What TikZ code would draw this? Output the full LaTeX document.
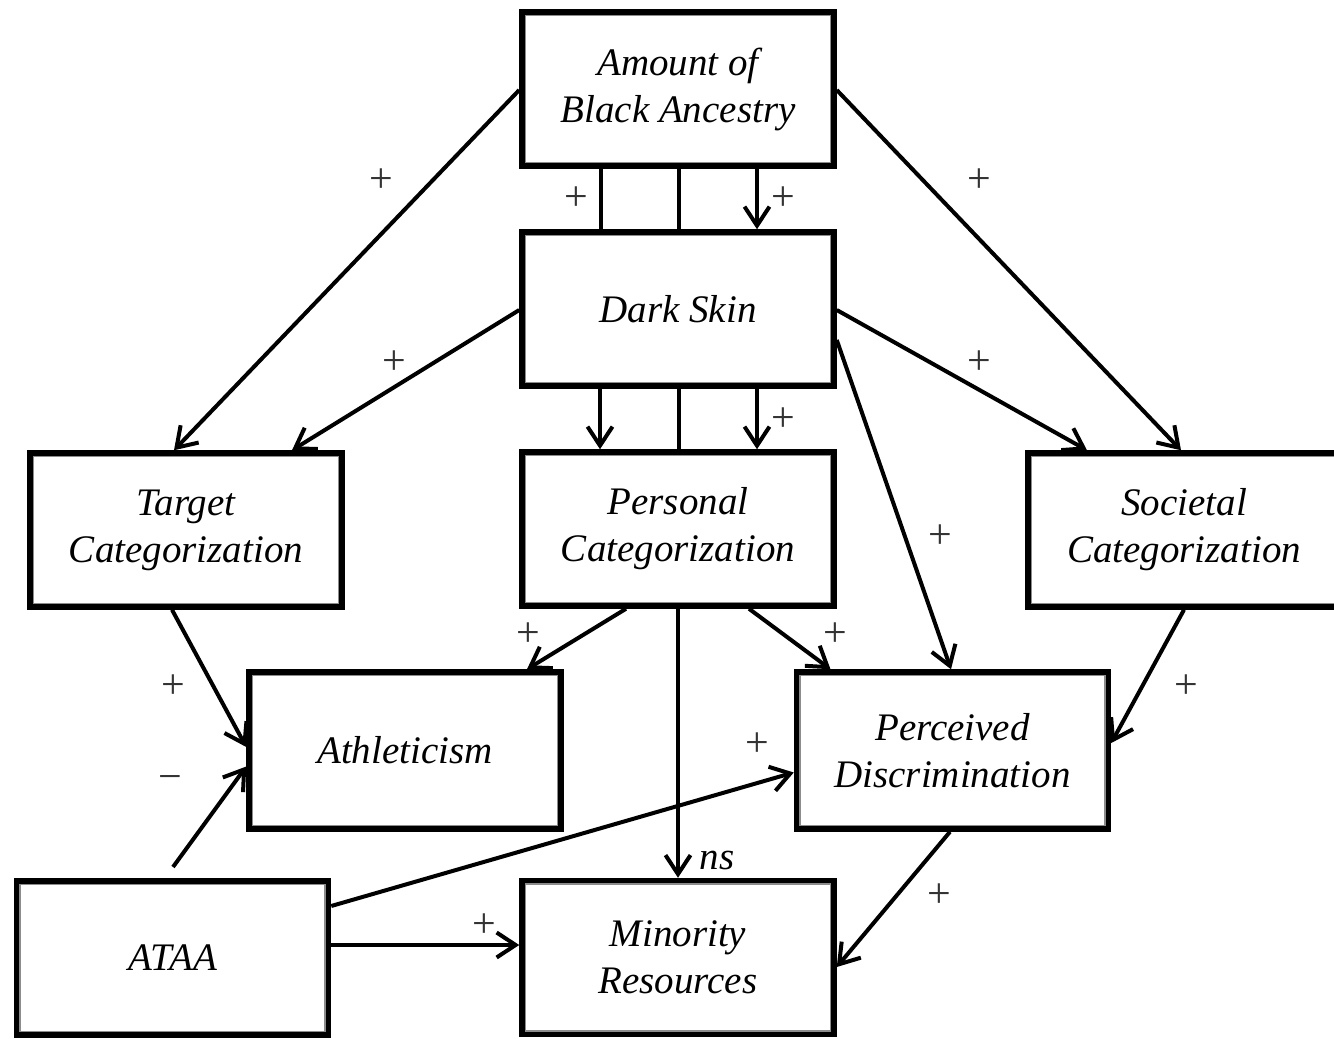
\documentclass[tikz,border=0pt]{standalone}
\usepackage{fontspec}
\setmainfont{Liberation Serif}
\usetikzlibrary{arrows.meta}
\begin{document}
\begin{tikzpicture}[x=1pt,y=-1pt,
  box/.style={draw=black, line width=5.5pt, fill=white, rectangle, inner sep=0pt,
    minimum width=312pt, minimum height=154pt, align=center,
    font=\fontsize{39}{47}\selectfont\itshape},
  conn/.style={line width=4pt, draw=black},
  arr/.style={conn, -{Straight Barb[length=19pt,width=25pt]}},
  sign/.style={font=\fontsize{42}{42}\selectfont, text=black!80, inner sep=0pt},
  lab/.style={font=\fontsize{39}{47}\selectfont\itshape, inner sep=0pt}
]
\useasboundingbox (0,0) rectangle (1334,1039);

% nodes
\node[box] (amt)  at (678,89)   {Amount of\\Black Ancestry};
\node[box] (dark) at (678,309)  {Dark Skin};
\node[box] (tgt)  at (186,530)  {Target\\Categorization};
\node[box] (pers) at (678,529)  {Personal\\Categorization};
\node[box] (soc)  at (1184,530) {Societal\\Categorization};
\node[box, minimum height=157pt] (ath)  at (405,750.5) {Athleticism};
\node[box, minimum height=157pt] (perc) at (952.5,750.5) {Perceived\\Discrimination};
\node[box] (ataa) at (172.5,958) {ATAA};
\node[box] (mino) at (678,957.5) {Minority\\Resources};

% inner grey rims
\foreach \n in {amt,dark,tgt,pers,soc,ath,perc,ataa,mino}
  \draw[black!45, line width=1.5pt]
    ([shift={(6.3pt,-6.3pt)}]\n.north west) rectangle ([shift={(-6.3pt,6.3pt)}]\n.south east);

% Amount -> Dark Skin
\draw[conn] ([xshift=-77pt]amt.south) -- ([xshift=-77pt]dark.north);
\draw[conn] ([xshift=1pt]amt.south) -- ([xshift=1pt]dark.north);
\draw[arr]  ([xshift=79pt]amt.south) -- ([xshift=79pt]dark.north);
\node[sign] (s1) at (576,199) {+};
\node[sign] (s2) at (783,199) {+};

% Dark Skin -> Personal
\draw[arr]  ([xshift=-78pt]dark.south) -- ([xshift=-78pt]pers.north);
\draw[conn] ([xshift=1pt]dark.south) -- ([xshift=1pt]pers.north);
\draw[arr]  ([xshift=79pt]dark.south) -- ([xshift=79pt]pers.north);
\node[sign] (s3) at (783,420) {+};

% to Target
\draw[arr] ([yshift=-1pt]amt.west) -- ([xshift=-12pt]tgt.north);
\node[sign] (s4) at (381,181) {+};
\draw[arr] ([yshift=-1pt]dark.west) -- ([xshift=106pt]tgt.north);
\node[sign] (s5) at (394,363) {+};

% to Societal
\draw[arr] ([yshift=-1pt]amt.east) -- ([xshift=-3pt]soc.north);
\node[sign] (s6) at (979,181) {+};
\draw[arr] ([yshift=-1pt]dark.east) -- ([xshift=-97pt]soc.north);
\node[sign] (s7) at (979,363) {+};

% Dark Skin -> Perceived
\draw[arr] ([yshift=-31pt]dark.east) -- ([xshift=-1.5pt]perc.north);
\node[sign] (s8) at (940,537) {+};

% Personal -> Athleticism / Perceived / Minority
\draw[arr] ([xshift=-52pt]pers.south) -- ([xshift=122pt]ath.north);
\node[sign] (s9) at (528,635) {+};
\draw[arr] ([xshift=71pt]pers.south) -- ([xshift=-122pt]perc.north);
\node[sign] (s10) at (835,635) {+};
\draw[arr] (pers.south) -- (mino.north);
\node[lab] (ns) at (717,860) {ns};

% Target -> Athleticism
\draw[arr] ([xshift=-14pt]tgt.south) -- ([yshift=3.5pt]ath.west);
\node[sign] (s11) at (173,687) {+};

% ATAA -> Athleticism (free start)
\coordinate (af) at (173,867);
\draw[arr] (af) -- ([yshift=-16pt]ath.west);
\node[sign] (s12) at (170,783) {−};

% ATAA -> Perceived, Minority
\draw[arr] ([yshift=52pt]ataa.east) -- ([yshift=-22pt]perc.west);
\node[sign] (s13) at (757,745) {+};
\draw[arr] ([yshift=13pt]ataa.east) -- ([yshift=12.5pt]mino.west);
\node[sign] (s14) at (484,926) {+};

% Societal -> Perceived
\draw[arr] (soc.south) -- ([yshift=7.5pt]perc.east);
\node[sign] (s15) at (1186,687) {+};

% Perceived -> Minority
\draw[arr] ([xshift=-2.5pt]perc.south) -- ([yshift=-9.5pt]mino.east);
\node[sign] (s16) at (939,896) {+};
\end{tikzpicture}
\end{document}
